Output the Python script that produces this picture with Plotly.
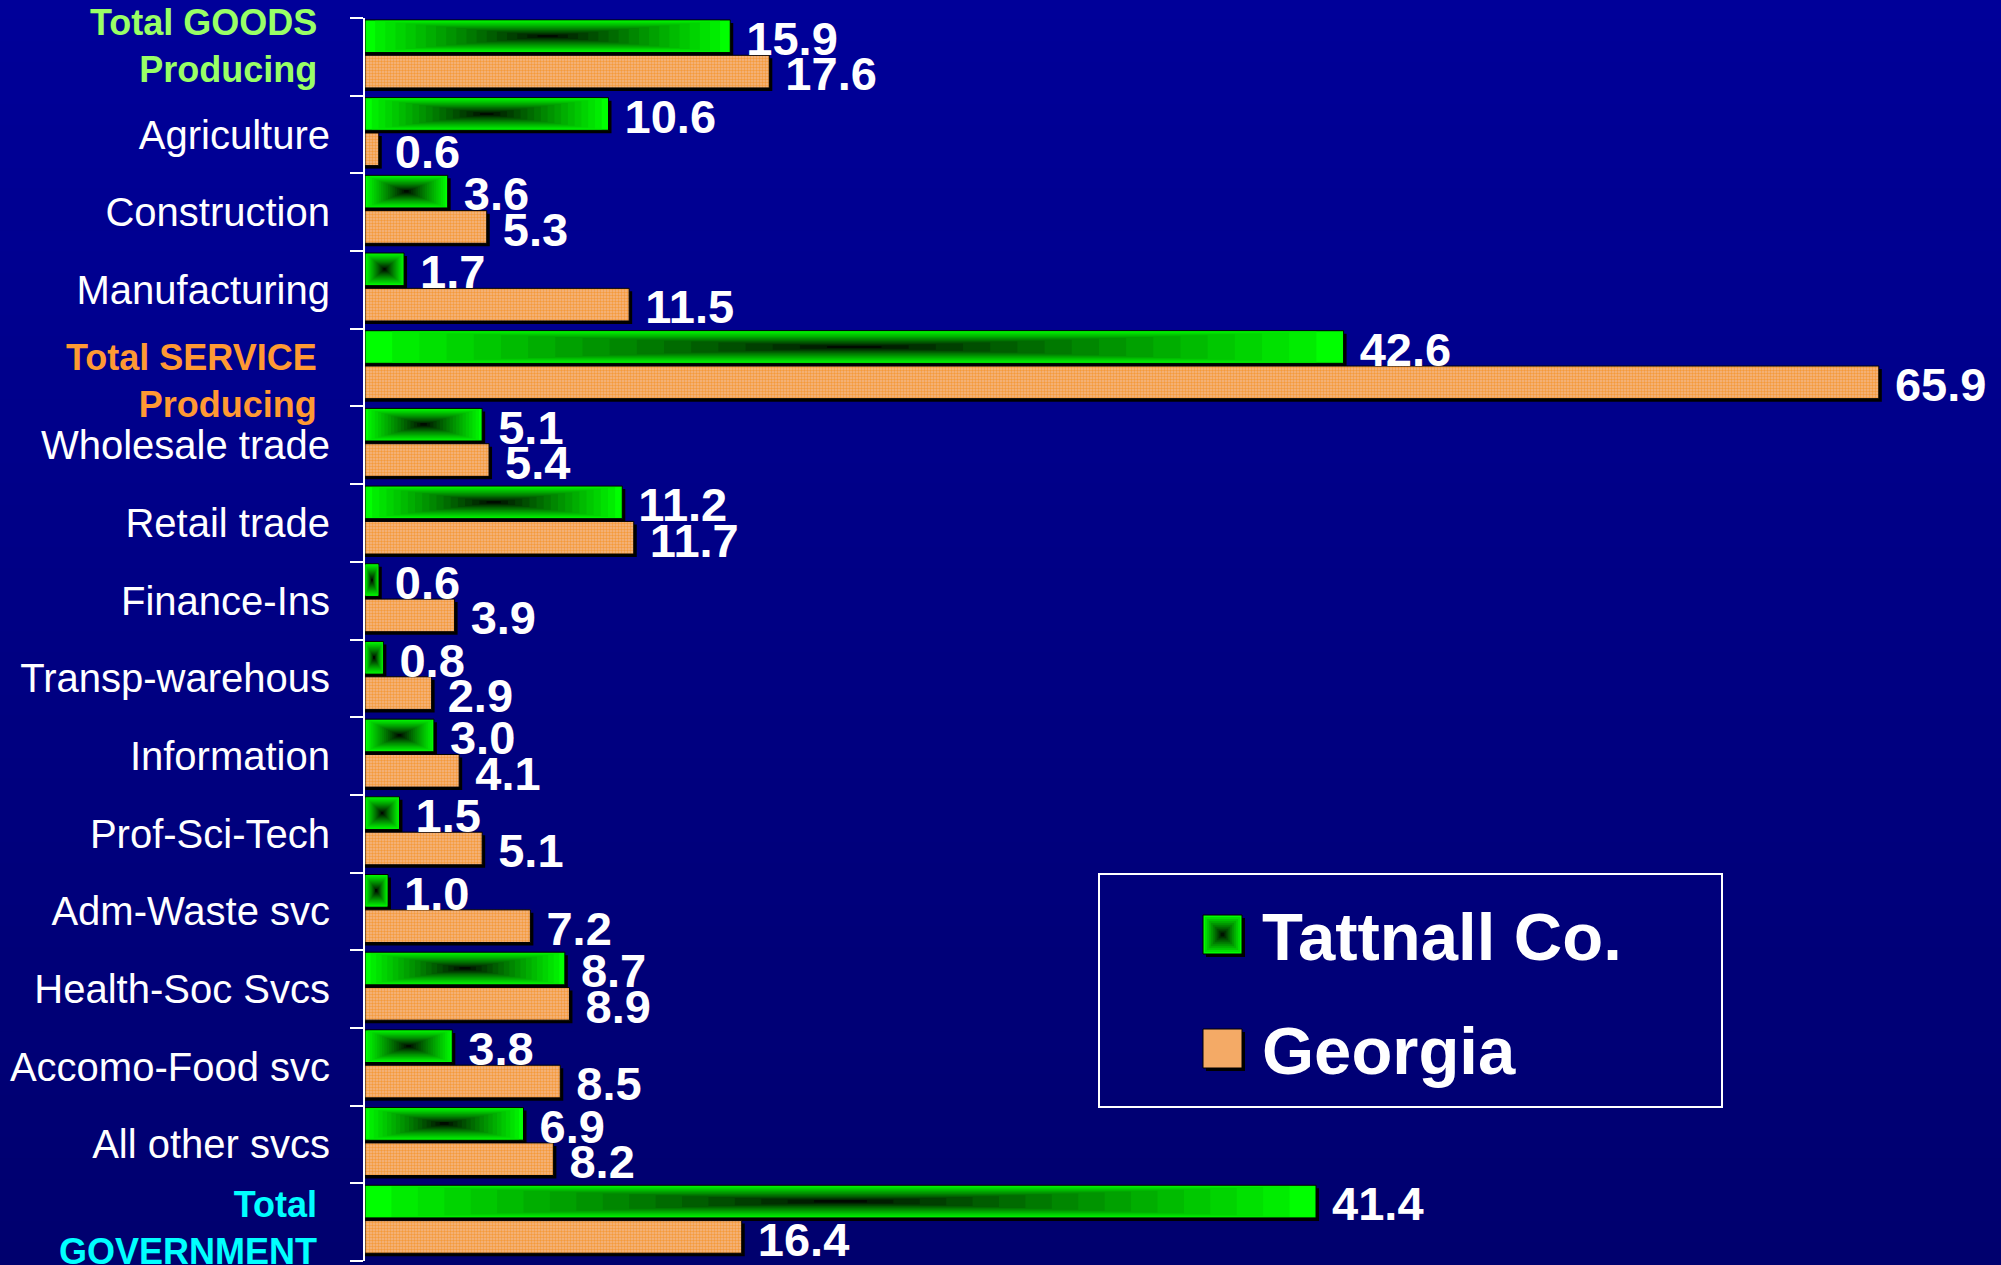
import plotly.graph_objects as go

# ---------------- data ----------------
categories = ["Total GOODS Producing", "Agriculture", "Construction", "Manufacturing",
              "Total SERVICE Producing", "Wholesale trade", "Retail trade", "Finance-Ins",
              "Transp-warehous", "Information", "Prof-Sci-Tech", "Adm-Waste svc",
              "Health-Soc Svcs", "Accomo-Food svc", "All other svcs", "Total GOVERNMENT"]
tattnall = [15.9, 10.6, 3.6, 1.7, 42.6, 5.1, 11.2, 0.6, 0.8, 3.0, 1.5, 1.0, 8.7, 3.8, 6.9, 41.4]
georgia = [17.6, 0.6, 5.3, 11.5, 65.9, 5.4, 11.7, 3.9, 2.9, 4.1, 5.1, 7.2, 8.9, 8.5, 8.2, 16.4]
series_names = ["Tattnall Co.", "Georgia"]
total_labels = {
    "Total GOODS Producing": (["Total GOODS", "Producing"], "#99FF66", 11),
    "Total SERVICE Producing": (["Total SERVICE", "Producing"], "#FF9933", -13),
    "Total GOVERNMENT": (["Total", "GOVERNMENT"], "#00FFFF", -6),
}

# ---------------- layout constants ----------------
W, H = 2001, 1265
L, R, T, B = 365, 28, 18, 4
PW, PH = W - L - R, H - T - B
XMAX = 70
GREEN = "#00FF00"
ORANGE = "#F4AA66"
FONT = "Liberation Sans, Arial, sans-serif"

def px2x(px):
    return (px - L) / PW

def px2y(py):
    return (H - B - py) / PH

ticktext = ["" if c in total_labels else c for c in categories]

fig = go.Figure()

g_off, g_w = -0.475, 0.42
o_off, o_w = -0.02, 0.42
sh_y = 3 / (PH / len(categories))
sh_x = 3 * XMAX / PW

# shadows
for vals, off, w in [(tattnall, g_off, g_w), (georgia, o_off, o_w)]:
    fig.add_trace(go.Bar(y=categories, x=[v + sh_x for v in vals], orientation="h",
                         offset=off + sh_y, width=w, marker=dict(color="black", line=dict(width=0)),
                         hoverinfo="skip", showlegend=False))

# green main bars
fig.add_trace(go.Bar(y=categories, x=tattnall, orientation="h", offset=g_off, width=g_w,
                     name=series_names[0],
                     marker=dict(color=GREEN, line=dict(color="black", width=1)), showlegend=False))

# green path-gradient layers (dark centre)
N = 18
EXP = 0.85
g_c = g_off + g_w / 2
for k in range(1, N):
    s = 1 - k / N
    f = (s - 0.5 / N) ** EXP
    col = f"rgb(0,{int(round(255 * f))},0)"
    fig.add_trace(go.Bar(y=categories, x=[v * s for v in tattnall],
                         base=[v * (1 - s) / 2 for v in tattnall], orientation="h",
                         offset=g_c - g_w * s / 2, width=g_w * s,
                         marker=dict(color=col, line=dict(width=0)),
                         hoverinfo="skip", showlegend=False))

# orange bars
fig.add_trace(go.Bar(y=categories, x=georgia, orientation="h", offset=o_off, width=o_w,
                     name=series_names[1],
                     marker=dict(color=ORANGE, line=dict(color="black", width=1),
                                 pattern=dict(shape=".", fgcolor="#F59A3A", bgcolor="#F4B888",
                                              size=3, solidity=0.5, fillmode="replace")),
                     showlegend=False))

# value labels (on top)
for vals, off, w in [(tattnall, g_off, g_w), (georgia, o_off, o_w)]:
    fig.add_trace(go.Bar(y=categories, x=vals, orientation="h", offset=off + 0.03, width=w,
                         marker=dict(color="rgba(0,0,0,0)", line=dict(width=0)),
                         texttemplate="\u00a0%{x:.1f}", textposition="outside",
                         constraintext="none", cliponaxis=False,
                         textfont=dict(family=FONT, size=47, color="white", weight="bold"),
                         hoverinfo="skip", showlegend=False))

# background gradient bands
shapes = []
NB = 60
y_top = 1 + T / PH
y_bot = -B / PH
for i in range(NB):
    t = (i + 0.5) / NB
    b = int(round(153 + (110 - 153) * t))
    y1 = y_top - (y_top - y_bot) * i / NB
    y0 = y_top - (y_top - y_bot) * (i + 1) / NB
    shapes.append(dict(type="rect", xref="paper", yref="paper", x0=-L / PW - 0.01, x1=1 + R / PW + 0.01,
                       y0=y0 - 0.001, y1=y1 + 0.001, fillcolor=f"rgb(0,0,{b})", line=dict(width=0),
                       layer="below"))

# legend box
shapes.append(dict(type="rect", xref="paper", yref="paper", x0=px2x(1099), x1=px2x(1722),
                   y0=px2y(1107), y1=px2y(874), line=dict(color="white", width=2),
                   fillcolor="rgba(0,0,0,0)", layer="above"))

def swatch(x0, y0, size, kind):
    out = [dict(type="rect", xref="paper", yref="paper", x0=px2x(x0 + 3), x1=px2x(x0 + size + 3),
                y0=px2y(y0 + size + 3), y1=px2y(y0 + 3), fillcolor="black", line=dict(width=0),
                layer="above")]
    if kind == "green":
        out.append(dict(type="rect", xref="paper", yref="paper", x0=px2x(x0), x1=px2x(x0 + size),
                        y0=px2y(y0 + size), y1=px2y(y0), fillcolor=GREEN,
                        line=dict(color="black", width=1), layer="above"))
        n = 10
        cx, cy = x0 + size / 2, y0 + size / 2
        for k in range(1, n):
            s = 1 - k / n
            f = (s - 0.5 / n) ** EXP
            hs = size * s / 2
            out.append(dict(type="rect", xref="paper", yref="paper", x0=px2x(cx - hs), x1=px2x(cx + hs),
                            y0=px2y(cy + hs), y1=px2y(cy - hs),
                            fillcolor=f"rgb(0,{int(round(255 * f))},0)", line=dict(width=0),
                            layer="above"))
    else:
        out.append(dict(type="rect", xref="paper", yref="paper", x0=px2x(x0), x1=px2x(x0 + size),
                        y0=px2y(y0 + size), y1=px2y(y0), fillcolor=ORANGE,
                        line=dict(color="black", width=1), layer="above"))
    return out

shapes += swatch(1203, 915, 39, "green")
shapes += swatch(1203, 1029, 39, "orange")

annotations = [
    dict(text=f"<b>{series_names[0]}</b>", x=px2x(1260), y=px2y(936), xref="paper", yref="paper",
         xanchor="left", yanchor="middle", showarrow=False,
         font=dict(family=FONT, size=67, color="white")),
    dict(text=f"<b>{series_names[1]}</b>", x=px2x(1260), y=px2y(1050), xref="paper", yref="paper",
         xanchor="left", yanchor="middle", showarrow=False,
         font=dict(family=FONT, size=67, color="white")),
]
# bold coloured group-total labels
for c in categories:
    if c in total_labels:
        lines, col, ysh = total_labels[c]
        annotations.append(dict(text="<br>".join(f"<b>{ln}</b>" for ln in lines),
                                x=0, xref="paper", y=c, yref="y", xanchor="right", yanchor="middle",
                                xshift=-46, yshift=ysh, showarrow=False, align="right",
                                font=dict(family=FONT, size=36, color=col)))

fig.update_layout(
    width=W, height=H,
    margin=dict(l=L, r=R, t=T, b=B, pad=0),
    barmode="overlay",
    paper_bgcolor="#000088",
    plot_bgcolor="rgba(0,0,0,0)",
    showlegend=False,
    shapes=shapes,
    annotations=annotations,
    font=dict(family=FONT, color="white"),
    xaxis=dict(range=[0, XMAX], visible=False, showgrid=False, zeroline=False, fixedrange=True),
    yaxis=dict(type="category", categoryorder="array", categoryarray=categories,
               tickmode="array", tickvals=categories, ticktext=ticktext,
               range=[len(categories) - 0.5, -0.5],
               showline=True, linecolor="white", linewidth=2, showgrid=False, zeroline=False,
               ticks="outside", tickson="boundaries", ticklen=13, tickwidth=2, tickcolor="white",
               ticklabelstandoff=25,
               tickfont=dict(family=FONT, size=40, color="white")),
)

fig.write_html("out.html", config={"displayModeBar": False},
               post_script="document.body.style.margin='0';document.body.style.overflow='hidden';")
